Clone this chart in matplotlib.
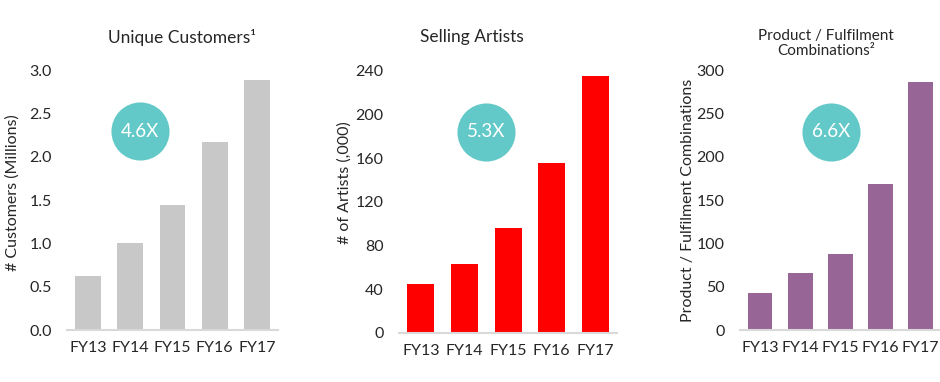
import matplotlib
matplotlib.use("Agg")
import matplotlib.pyplot as plt

plt.rcParams['font.family'] = ['Lato', 'DejaVu Sans']

years = ["FY13", "FY14", "FY15", "FY16", "FY17"]

customers = [0.62, 1.0, 1.44, 2.17, 2.89]
artists = [44.6, 62.9, 95.9, 155, 234.8]
combinations = [43, 65.8, 87.3, 168, 286.5]

multiples = ["4.6X", "5.3X", "6.6X"]

text_col = "#262626"
teal = "#63c9c8"


def style_axis(ax, ymax, ticks, tick_labels):
    ax.set_ylim(0, ymax)
    ax.set_xlim(-0.5, 4.5)
    ax.set_yticks(ticks)
    ax.set_yticklabels(tick_labels)
    for side in ["top", "right", "left"]:
        ax.spines[side].set_visible(False)
    ax.spines["bottom"].set_color("#d9d9d9")
    ax.spines["bottom"].set_linewidth(1.5)
    ax.tick_params(axis="both", length=0, labelsize=11.5, colors=text_col)
    ax.tick_params(axis="y", pad=11)
    ax.tick_params(axis="x", pad=8)


fig = plt.figure(figsize=(9.4, 3.82), dpi=100)

# Unique customers
ax1 = fig.add_axes([0.0713, 0.1361, 0.2245, 0.6806])
ax1.bar(years, customers, width=0.61, color="#c8c8c8")
style_axis(ax1, 3.0, [0, 0.5, 1.0, 1.5, 2.0, 2.5, 3.0],
           ["0.0", "0.5", "1.0", "1.5", "2.0", "2.5", "3.0"])
ax1.set_ylabel("# Customers (Millions)", fontsize=11.5, color=text_col, va="center")
ax1.yaxis.set_label_coords(-0.26, 0.527)

# Selling artists
ax2 = fig.add_axes([0.4245, 0.129, 0.2319, 0.686])
ax2.bar(years, artists, width=0.62, color="#ff0000")
style_axis(ax2, 240, [0, 40, 80, 120, 160, 200, 240],
           ["0", "40", "80", "120", "160", "200", "240"])
ax2.set_ylabel("# of Artists (,000)", fontsize=11.5, color=text_col, va="center")
ax2.yaxis.set_label_coords(-0.248, 0.571)

# Product / fulfilment combinations
ax3 = fig.add_axes([0.7872, 0.1361, 0.2135, 0.6806])
ax3.bar(years, combinations, width=0.62, color="#976596")
style_axis(ax3, 300, [0, 50, 100, 150, 200, 250, 300],
           ["0", "50", "100", "150", "200", "250", "300"])
ax3.set_ylabel("Product / Fulfilment Combinations", fontsize=11.5, color=text_col,
               va="center")
ax3.yaxis.set_label_coords(-0.259, 0.5)

# growth badges
badge_pos = [(ax1, 0.346, 0.765), (ax2, 0.398, 0.766), (ax3, 0.453, 0.762)]
for (ax, bx, by), label in zip(badge_pos, multiples):
    ax.scatter([bx], [by], s=1750, color=teal, transform=ax.transAxes,
               zorder=5, clip_on=False, linewidths=0)
    ax.text(bx, by, label, transform=ax.transAxes, ha="center", va="center",
            color="white", fontsize=13.5, zorder=6)

# titles
fig.text(181.7 / 940, 1 - 37 / 382, "Unique Customers¹", ha="center", va="center",
         fontsize=12.5, color=text_col)
fig.text(471.7 / 940, 1 - 37 / 382, "Selling Artists", ha="center", va="center",
         fontsize=12.5, color=text_col)
fig.text(825.7 / 940, 1 - 43.5 / 382, "Product / Fulfilment\nCombinations²",
         ha="center", va="center", fontsize=11, color=text_col, linespacing=1.1)

fig.savefig("out.png", dpi=100)
